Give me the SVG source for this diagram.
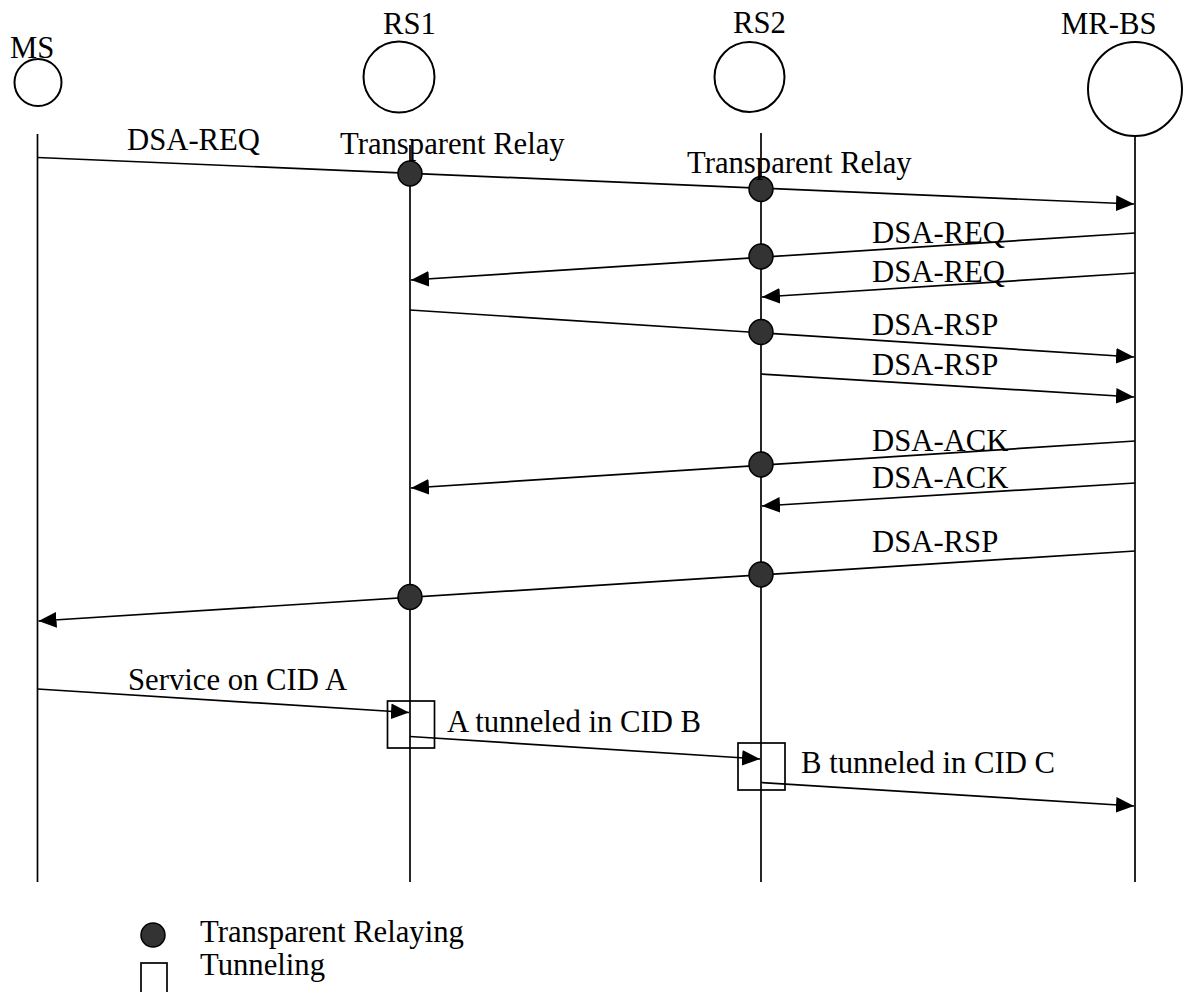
<svg xmlns="http://www.w3.org/2000/svg" width="1183" height="992" viewBox="0 0 1183 992">
<style>
text{font-family:"Liberation Serif","Times New Roman",serif;font-size:30.7px;fill:#000}
.ll{stroke:#000;stroke-width:1.7;fill:none}
.node{fill:#fff;stroke:#000;stroke-width:2}
.msg{stroke:#000;stroke-width:1.7;fill:none}
.dot{fill:#333;stroke:#000;stroke-width:1.5}
.box{fill:none;stroke:#000;stroke-width:1.7}
</style>
<defs>
<marker id="arr" markerUnits="userSpaceOnUse" markerWidth="18" markerHeight="16" viewBox="0 0 16 14" refX="16" refY="7" orient="auto">
<path d="M0,0 L16,7 L0,14 Z" fill="#000"/>
</marker>
</defs>
<rect width="1183" height="992" fill="#fff"/>
<g id="node-ms">
<circle class="node" cx="38" cy="82.5" r="23.5"/>
<text x="10" y="58">MS</text>
<line class="ll" x1="37.5" y1="134" x2="37.5" y2="882"/>
</g>
<g id="node-rs1">
<circle class="node" cx="399" cy="77" r="35.5"/>
<text x="383" y="34">RS1</text>
<line class="ll" x1="410" y1="145" x2="410" y2="882"/>
</g>
<g id="node-rs2">
<circle class="node" cx="749.5" cy="77" r="35"/>
<text x="733" y="33">RS2</text>
<line class="ll" x1="761" y1="133" x2="761" y2="882"/>
</g>
<g id="node-mrbs">
<circle class="node" cx="1135" cy="89" r="47"/>
<text x="1061" y="34">MR-BS</text>
<line class="ll" x1="1135" y1="136" x2="1135" y2="882"/>
</g>
<g id="connectors">
<line class="msg" x1="37.5" y1="157.5" x2="1134" y2="204" marker-end="url(#arr)"/>
<line class="msg" x1="1135" y1="233" x2="411" y2="280" marker-end="url(#arr)"/>
<line class="msg" x1="1135" y1="273" x2="762" y2="297" marker-end="url(#arr)"/>
<line class="msg" x1="410" y1="310" x2="1134" y2="357" marker-end="url(#arr)"/>
<line class="msg" x1="761" y1="374" x2="1134" y2="397" marker-end="url(#arr)"/>
<line class="msg" x1="1135" y1="441" x2="411" y2="488" marker-end="url(#arr)"/>
<line class="msg" x1="1135" y1="483" x2="762" y2="506" marker-end="url(#arr)"/>
<line class="msg" x1="1135" y1="551" x2="38.5" y2="621" marker-end="url(#arr)"/>
<line class="msg" x1="37.5" y1="689" x2="409" y2="712.5" marker-end="url(#arr)"/>
<line class="msg" x1="410" y1="736.5" x2="760" y2="759" marker-end="url(#arr)"/>
<line class="msg" x1="761" y1="782.5" x2="1134" y2="806" marker-end="url(#arr)"/>
</g>
<g id="relay-dots">
<ellipse class="dot" cx="410" cy="173.5" rx="12" ry="12.5"/>
<ellipse class="dot" cx="761" cy="189" rx="12" ry="12.5"/>
<ellipse class="dot" cx="761" cy="256.5" rx="12" ry="12.5"/>
<ellipse class="dot" cx="761" cy="332" rx="12" ry="12.5"/>
<ellipse class="dot" cx="761" cy="464.5" rx="12" ry="12.5"/>
<ellipse class="dot" cx="761" cy="574.5" rx="12" ry="12.5"/>
<ellipse class="dot" cx="410" cy="597" rx="12" ry="12.5"/>
</g>
<g id="tunnel-boxes">
<rect class="box" x="387.5" y="701" width="47" height="47"/>
<rect class="box" x="738" y="743" width="47" height="47"/>
</g>
<g id="labels">
<text x="127" y="150">DSA-REQ</text>
<text x="340" y="154">Transparent Relay</text>
<text x="687" y="173">Transparent Relay</text>
<text x="872" y="243">DSA-REQ</text>
<text x="872" y="282">DSA-REQ</text>
<text x="872" y="335">DSA-RSP</text>
<text x="872" y="375">DSA-RSP</text>
<text x="872" y="451">DSA-ACK</text>
<text x="872" y="488">DSA-ACK</text>
<text x="872" y="552">DSA-RSP</text>
<text x="128" y="690">Service on CID A</text>
<text x="447" y="732">A tunneled in CID B</text>
<text x="801" y="773">B tunneled in CID C</text>
</g>
<g id="legend">
<ellipse class="dot" cx="153" cy="935" rx="12" ry="12"/>
<text x="200" y="942">Transparent Relaying</text>
<rect class="box" x="141" y="963" width="26" height="40"/>
<text x="200" y="975">Tunneling</text>
</g>
</svg>
